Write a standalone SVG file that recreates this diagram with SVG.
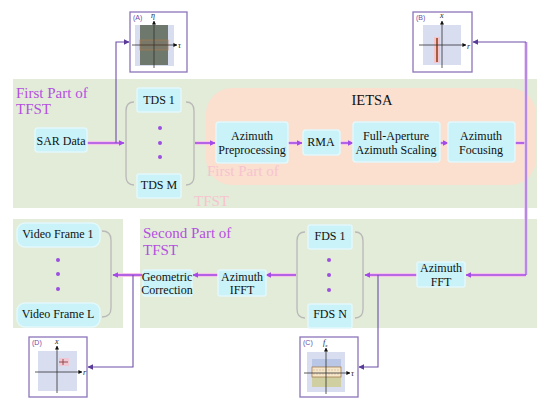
<svg xmlns="http://www.w3.org/2000/svg" width="550" height="408" viewBox="0 0 550 408">
<defs>
<style>
.t{font-family:"Liberation Serif","Times New Roman",serif;font-size:12px;fill:#111;text-anchor:middle;dominant-baseline:central}
.pt{font-family:"Liberation Serif","Times New Roman",serif;font-size:15px;fill:#b44fe0}
.ghost{font-family:"Liberation Serif","Times New Roman",serif;font-size:15px;fill:#f6c4cf}
.box{fill:#c9f3f8;stroke:#e4f8fb;stroke-width:1.5}
.br{fill:none;stroke:#b9b9b9;stroke-width:1.3}
.dot{fill:#9b4fe0}
.glow{fill:none;stroke:#f6c6e6;stroke-width:4}
.arr{fill:none;stroke:#a24ae6;stroke-width:1.6}
.thin{fill:none;stroke:#6d4fa8;stroke-width:1.1}
.ib{fill:#fff;stroke:#8b74bb;stroke-width:1.3}
.bg{fill:#d8ddf0}
.ax{fill:none;stroke:#333;stroke-width:0.8}
.il{font-family:"Liberation Sans",Arial,sans-serif;font-size:7px;fill:#6a4aa8}
.al{font-family:"Liberation Serif","Times New Roman",serif;font-size:8px;font-style:italic;fill:#222}
</style>
<marker id="ah" viewBox="0 0 10 10" refX="9" refY="5" markerWidth="6" markerHeight="6" orient="auto" markerUnits="userSpaceOnUse"><path d="M0,0 L10,5 L0,10 z" fill="#a24ae6"/></marker>
<marker id="ah2" viewBox="0 0 10 10" refX="9" refY="5" markerWidth="6" markerHeight="6" orient="auto" markerUnits="userSpaceOnUse"><path d="M0,0 L10,5 L0,10 z" fill="#5a3c98"/></marker>
<marker id="axh" viewBox="0 0 10 10" refX="9" refY="5" markerWidth="4" markerHeight="4" orient="auto" markerUnits="userSpaceOnUse"><path d="M0,0 L10,5 L0,10 z" fill="#111"/></marker>
</defs>
<rect width="550" height="408" fill="#fff"/>

<!-- panels -->
<g id="panel1">
<rect x="13" y="79" width="524" height="129" fill="#e2ecd8"/>
<text class="pt" x="16" y="98">First Part of</text>
<text class="pt" x="16" y="114">TFST</text>
</g>
<g id="ietsa">
<rect x="206" y="88" width="330" height="97" rx="26" fill="#fbdfcf"/>
<text x="372" y="100" font-family="Liberation Serif,serif" font-size="14.5" text-anchor="middle" dominant-baseline="central" fill="#111">IETSA</text>
<text class="ghost" x="207" y="176">First Part of</text>
<text class="ghost" x="194" y="206">TFST</text>
</g>
<g id="panel2a"><rect x="13" y="219" width="110" height="109" fill="#e2ecd8"/></g>
<g id="panel2b">
<rect x="140" y="219" width="397" height="109" fill="#e2ecd8"/>
<text class="pt" x="143" y="238">Second Part of</text>
<text class="pt" x="143" y="255">TFST</text>
</g>

<!-- connectors -->
<g id="connectors">
<g class="glow">
<path d="M87,143 H122"/><path d="M195,143 H213"/><path d="M288,143 H300"/><path d="M340,143 H351"/><path d="M440,143 H446"/>
<path d="M515,143 H526"/><path d="M526,275 H468"/><path d="M417,275 H367"/><path d="M296,275 H268"/><path d="M218,275 H195"/><path d="M143,275 H115"/>
</g>
<path class="arr" d="M87,143 H124" marker-end="url(#ah)"/>
<path class="arr" d="M195,143 H215" marker-end="url(#ah)"/>
<path class="arr" d="M288,143 H302" marker-end="url(#ah)"/>
<path class="arr" d="M340,143 H353" marker-end="url(#ah)"/>
<path class="arr" d="M440,143 H448" marker-end="url(#ah)"/>
<path class="arr" d="M515,143 H526"/>
<path d="M526,42 V275" fill="none" stroke="#e8c8f0" stroke-width="3.5"/>
<path d="M526,42 V275" fill="none" stroke="#a070dc" stroke-width="1.4"/>
<path class="arr" d="M526,275 H466" marker-end="url(#ah)"/>
<path class="arr" d="M417,275 H365" marker-end="url(#ah)"/>
<path class="arr" d="M296,275 H266" marker-end="url(#ah)"/>
<path class="arr" d="M218,275 H193" marker-end="url(#ah)"/>
<path class="arr" d="M143,275 H113" marker-end="url(#ah)"/>
<path class="thin" d="M116,143 V42 H129" marker-end="url(#ah2)"/>
<path class="thin" d="M526,42 H473" marker-end="url(#ah2)"/>
<path class="thin" d="M378,275 V367 H359" marker-end="url(#ah2)"/>
<path class="thin" d="M133,275 V367 H88" marker-end="url(#ah2)"/>
</g>

<!-- nodes -->
<g id="sar"><rect class="box" x="35" y="128" width="52" height="24" rx="3"/><text class="t" x="61" y="141">SAR Data</text></g>
<g id="tds">
<path class="br" d="M134,102 Q126,102 126,111 V176 Q126,185 134,185"/>
<path class="br" d="M186,102 Q194,102 194,111 V176 Q194,185 186,185"/>
<rect class="box" x="137" y="88" width="44" height="24" rx="2"/><text class="t" x="159" y="100">TDS 1</text>
<circle class="dot" cx="160" cy="128" r="2"/><circle class="dot" cx="160" cy="143" r="2"/><circle class="dot" cx="160" cy="157" r="2"/>
<rect class="box" x="137" y="174" width="44" height="24" rx="2"/><text class="t" x="159" y="185">TDS M</text>
</g>
<g id="azpre"><rect class="box" x="216" y="122" width="72" height="41" rx="3"/><text class="t" x="252" y="136">Azimuth</text><text class="t" x="252" y="150">Preprocessing</text></g>
<g id="rma"><rect class="box" x="303" y="130" width="37" height="25" rx="3"/><text class="t" x="321" y="142">RMA</text></g>
<g id="fas"><rect class="box" x="353" y="122" width="87" height="40" rx="3"/><text class="t" x="396" y="136">Full-Aperture</text><text class="t" x="396" y="150">Azimuth Scaling</text></g>
<g id="azfoc"><rect class="box" x="448" y="122" width="67" height="40" rx="3"/><text class="t" x="481" y="136">Azimuth</text><text class="t" x="481" y="150">Focusing</text></g>

<g id="azfft"><rect class="box" x="417" y="262" width="48" height="25" rx="2"/><text class="t" x="441" y="268">Azimuth</text><text class="t" x="441" y="282">FFT</text></g>
<g id="fds">
<path class="br" d="M305,232 Q297,232 297,241 V309 Q297,318 305,318"/>
<path class="br" d="M355,232 Q363,232 363,241 V309 Q363,318 355,318"/>
<rect class="box" x="308" y="225" width="44" height="24" rx="2"/><text class="t" x="330" y="236">FDS 1</text>
<circle class="dot" cx="329" cy="260" r="2"/><circle class="dot" cx="329" cy="275" r="2"/><circle class="dot" cx="329" cy="290" r="2"/>
<rect class="box" x="308" y="304" width="44" height="24" rx="2"/><text class="t" x="330" y="314">FDS N</text>
</g>
<g id="azifft"><rect class="box" x="218" y="270" width="48" height="26" rx="2"/><text class="t" x="242" y="277">Azimuth</text><text class="t" x="242" y="290">IFFT</text></g>
<g id="geo"><rect class="box" x="143" y="270" width="49" height="26" rx="2"/><text class="t" x="167" y="277">Geometric</text><text class="t" x="167" y="290">Correction</text></g>
<g id="video">
<path class="br" d="M102,231 Q111,231 111,240 V308 Q111,317 102,317"/>
<rect class="box" x="17" y="223" width="83" height="24" rx="8"/><text class="t" x="58" y="234">Video Frame 1</text>
<circle class="dot" cx="58" cy="260" r="2"/><circle class="dot" cx="58" cy="274" r="2"/><circle class="dot" cx="58" cy="289" r="2"/>
<rect class="box" x="17" y="303" width="83" height="24" rx="8"/><text class="t" x="58" y="314">Video Frame L</text>
</g>

<!-- insets -->
<g id="insetA">
<rect class="ib" x="130" y="12" width="57" height="60"/>
<text class="il" x="133" y="20">(A)</text>
<rect class="bg" x="135" y="25" width="39" height="41"/>
<rect x="140" y="25" width="28" height="40" fill="#6e786c"/>
<rect x="140" y="40" width="28" height="10" fill="#7a7868" stroke="#a87a50" stroke-width="0.7"/>
<line x1="140" y1="45" x2="168" y2="45" stroke="#a87a50" stroke-width="0.7"/>
<line class="ax" x1="132" y1="45" x2="177" y2="45" marker-end="url(#axh)"/>
<line class="ax" x1="154" y1="68" x2="154" y2="21" marker-end="url(#axh)"/>
<text class="al" x="178" y="48">τ</text>
<text class="al" x="151" y="18">η</text>
</g>
<g id="insetB">
<rect class="ib" x="413" y="12" width="59" height="60"/>
<text class="il" x="416" y="20">(B)</text>
<rect class="bg" x="423" y="25" width="38" height="40"/>
<rect x="434" y="37" width="6" height="26" fill="#f2c6cc"/>
<rect x="436" y="38" width="2" height="24" fill="#a85c40"/>
<line class="ax" x1="419" y1="45" x2="466" y2="45" marker-end="url(#axh)"/>
<line class="ax" x1="442" y1="68" x2="442" y2="21" marker-end="url(#axh)"/>
<text class="al" x="467" y="49">r</text>
<text class="al" x="440" y="18">x</text>
</g>
<g id="insetC">
<rect class="ib" x="300" y="337" width="58" height="60"/>
<text class="il" x="303" y="345">(C)</text>
<rect class="bg" x="307" y="352" width="38" height="40"/>
<rect x="312" y="359" width="29" height="28" fill="#b9c6e6"/>
<rect x="312" y="377" width="29" height="10" fill="#cfcfa2"/>
<rect x="312" y="367" width="29" height="10" fill="#f6e7ca" stroke="#9a7040" stroke-width="0.7"/>
<line x1="313" y1="370" x2="340" y2="370" stroke="#c0a080" stroke-width="0.5" stroke-dasharray="2,1"/>
<line x1="313" y1="374" x2="340" y2="374" stroke="#c0a080" stroke-width="0.5" stroke-dasharray="2,1"/>
<line class="ax" x1="304" y1="373" x2="350" y2="373" marker-end="url(#axh)"/>
<line class="ax" x1="326" y1="394" x2="326" y2="348" marker-end="url(#axh)"/>
<text class="al" x="351" y="376">τ</text>
<text class="al" x="323" y="345">f<tspan font-size="5" dy="2">x</tspan></text>
</g>
<g id="insetD">
<rect class="ib" x="29" y="337" width="58" height="60"/>
<text class="il" x="32" y="345">(D)</text>
<rect class="bg" x="38" y="351" width="39" height="40"/>
<rect x="59" y="358" width="10" height="8" fill="#f0c8d4"/>
<line x1="59" y1="362" x2="68" y2="362" stroke="#8a4040" stroke-width="0.9"/>
<line x1="63" y1="359" x2="63" y2="365" stroke="#8a4040" stroke-width="0.9"/>
<line class="ax" x1="35" y1="372" x2="82" y2="372" marker-end="url(#axh)"/>
<line class="ax" x1="57" y1="393" x2="57" y2="346" marker-end="url(#axh)"/>
<text class="al" x="83" y="375">r</text>
<text class="al" x="55" y="344">x</text>
</g>
</svg>
